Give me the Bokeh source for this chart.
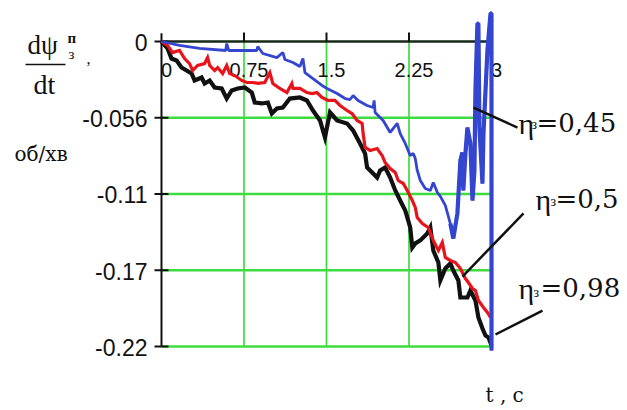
from math import pi
from bokeh.plotting import figure
from bokeh.models import Range1d, Label
from bokeh.core.properties import value
from bokeh.embed import file_html
from bokeh.resources import INLINE

# ---- data (t in s, dpsi/dt in rev/min) ----
t_098 = [0, 0.055, 0.091, 0.137, 0.182, 0.228, 0.274, 0.301, 0.365, 0.392, 0.438, 0.483, 0.547,
         0.593, 0.638, 0.693, 0.757, 0.821, 0.848, 0.912, 0.967, 1.003, 1.049, 1.103, 1.167, 1.258,
         1.322, 1.377, 1.441, 1.486, 1.532, 1.596, 1.687, 1.742, 1.805, 1.851, 1.869, 1.915, 1.960,
         1.988, 2.033, 2.079, 2.125, 2.170, 2.216, 2.261, 2.280, 2.307, 2.353, 2.416, 2.444, 2.471,
         2.517, 2.535, 2.580, 2.626, 2.653, 2.699, 2.717, 2.781, 2.808, 2.854, 2.881, 2.918, 2.945,
         2.973, 3.0]
w_098 = [0, -0.0051, -0.0125, -0.0140, -0.0191, -0.0213, -0.0235, -0.0286, -0.0264, -0.0308,
         -0.0286, -0.0338, -0.0345, -0.0419, -0.0360, -0.0345, -0.0338, -0.0375, -0.0448, -0.0455,
         -0.0448, -0.0529, -0.0492, -0.0485, -0.0419, -0.0411, -0.0433, -0.0507, -0.0580, -0.0705,
         -0.0521, -0.0580, -0.0602, -0.0654, -0.0749, -0.0823, -0.0925, -0.0962, -0.0999, -0.0947,
         -0.0925, -0.0999, -0.1094, -0.1168, -0.1241, -0.1366, -0.1513, -0.1483, -0.1461, -0.1410,
         -0.1366, -0.1535, -0.1623, -0.1755, -0.1667, -0.1630, -0.1682, -0.1755, -0.1880, -0.1880,
         -0.1829, -0.1902, -0.2027, -0.2108, -0.2159, -0.2174, -0.2232]

t_05 = [0, 0.055, 0.100, 0.164, 0.210, 0.255, 0.283, 0.328, 0.392, 0.419, 0.438, 0.483, 0.511,
        0.556, 0.593, 0.620, 0.666, 0.729, 0.775, 0.830, 0.875, 0.939, 0.985, 1.012, 1.076, 1.140,
        1.185, 1.195, 1.258, 1.322, 1.368, 1.413, 1.459, 1.514, 1.577, 1.623, 1.687, 1.732, 1.778,
        1.824, 1.833, 1.851, 1.897, 1.960, 2.006, 2.033, 2.079, 2.125, 2.152, 2.198, 2.234, 2.280,
        2.307, 2.325, 2.371, 2.425, 2.471, 2.517, 2.553, 2.580, 2.626, 2.672, 2.717, 2.763, 2.790,
        2.827, 2.854, 2.881, 2.927, 2.963, 2.991]
w_05 = [0, -0.0029, -0.0081, -0.0066, -0.0125, -0.0162, -0.0213, -0.0176, -0.0162, -0.0118,
        -0.0176, -0.0213, -0.0191, -0.0235, -0.0176, -0.0235, -0.0250, -0.0286, -0.0301, -0.0301,
        -0.0308, -0.0301, -0.0228, -0.0308, -0.0345, -0.0375, -0.0308, -0.0345, -0.0345, -0.0375,
        -0.0382, -0.0375, -0.0411, -0.0433, -0.0433, -0.0470, -0.0507, -0.0529, -0.0580, -0.0602,
        -0.0676, -0.0778, -0.0800, -0.0786, -0.0837, -0.0889, -0.0933, -0.0962, -0.1021, -0.1043,
        -0.1094, -0.1168, -0.1219, -0.1293, -0.1337, -0.1366, -0.1461, -0.1535, -0.1476, -0.1586,
        -0.1608, -0.1623, -0.1667, -0.1741, -0.1770, -0.1814, -0.1829, -0.1902, -0.1954, -0.1990,
        -0.2027]

t_045 = [0, 0.164, 0.346, 0.584, 0.593, 0.611, 0.775, 0.866, 0.875, 0.921, 1.049, 1.103, 1.122,
         1.195, 1.258, 1.286, 1.304, 1.377, 1.459, 1.505, 1.596, 1.669, 1.714, 1.742, 1.787, 1.869,
         1.924, 1.933, 1.942, 2.015, 2.079, 2.143, 2.170, 2.216, 2.261, 2.289, 2.307, 2.325, 2.353,
         2.398, 2.444, 2.471, 2.508, 2.535, 2.580, 2.626, 2.653, 2.690, 2.717, 2.735, 2.744, 2.763,
         2.781, 2.808, 2.827, 2.845, 2.854, 2.872, 2.881, 2.890, 2.918, 2.927, 2.963, 2.991, 3.0, 3.0]
w_045 = [0, -0.0029, -0.0051, -0.0066, -0.0015, -0.0066, -0.0066, -0.0066, -0.0037, -0.0088,
         -0.0118, -0.0081, -0.0132, -0.0154, -0.0184, -0.0125, -0.0228, -0.0272, -0.0323, -0.0345,
         -0.0382, -0.0419, -0.0426, -0.0397, -0.0433, -0.0470, -0.0485, -0.0433, -0.0521, -0.0580,
         -0.0668, -0.0602, -0.0676, -0.0749, -0.0837, -0.0823, -0.0859, -0.0947, -0.1021, -0.1080,
         -0.1094, -0.1036, -0.1109, -0.1138, -0.1204, -0.1337, -0.1447, -0.1263, -0.0874, -0.0815,
         -0.1094, -0.0823, -0.0632, -0.0749, -0.1168, -0.0947, -0.0360, 0.0132, 0.0132, -0.0632,
         -0.1043, -0.0676, -0.0066, 0.0206, 0.0206, -0.2269]

x_ticks = [0, 0.75, 1.5, 2.25, 3]
x_tick_labels = ["0", "0.75", "1.5", "2.25", "3"]
y_ticks = [0, -0.056, -0.112, -0.168, -0.224]
y_tick_labels = ["0", "-0.056", "-0.11", "-0.17", "-0.22"]

# curve labels and their leader lines (text end -> curve)
eta_texts = ["=0,45", "=0,5", "=0,98"]
leader_x0 = [3.236, 3.291, 3.464]
leader_y0 = [-0.0632, -0.1263, -0.1976]
leader_x1 = [2.836, 2.736, 3.036]
leader_y1 = [-0.0485, -0.1726, -0.2152]

GREEN = "#3fdc3f"
BLACK = "#111111"
RED = "#e8141b"
BLUE = "#3446cf"

p = figure(width=627, height=410, output_backend="svg", toolbar_location=None,
           x_range=Range1d(-1.4636, 4.2364), y_range=Range1d(-0.27101, 0.030112),
           x_axis_location=None, y_axis_location=None,
           min_border_left=0, min_border_right=0, min_border_top=0, min_border_bottom=0)
p.outline_line_color = None
p.grid.visible = False
p.background_fill_color = "white"
p.border_fill_color = "white"

# green grid
n_h = len(y_ticks) - 1
p.segment(x0=[x_ticks[0]] * n_h, x1=[x_ticks[-1]] * n_h, y0=y_ticks[1:], y1=y_ticks[1:],
          line_color=GREEN, line_width=2.4)
n_v = len(x_ticks) - 1
p.segment(x0=x_ticks[1:], x1=x_ticks[1:], y0=[y_ticks[0]] * n_v, y1=[y_ticks[-1]] * n_v,
          line_color=GREEN, line_width=1.7)

# x axis drawn through zero, labels underneath
p.segment(x0=[x_ticks[0]], x1=[x_ticks[-1]], y0=[0], y1=[0], line_color="#142814", line_width=2.6)
p.ray(x=x_ticks[1:-1], y=[0] * (len(x_ticks) - 2), length=9, length_units="screen",
      angle=pi / 2, line_color=BLACK, line_width=2)
p.text(x=x_ticks, y=[0] * len(x_ticks), text=x_tick_labels, text_font=value("Liberation Sans"),
       text_font_size="20px", text_color=BLACK, text_align="center", text_baseline="middle",
       x_offset=5, y_offset=29)

# y axis at t = 0
p.segment(x0=[x_ticks[0]], x1=[x_ticks[0]], y0=[y_ticks[-1]], y1=[0.006],
          line_color=BLACK, line_width=2)
zeros_y = [x_ticks[0]] * len(y_ticks)
p.ray(x=zeros_y, y=y_ticks, length=7, length_units="screen", angle=pi, line_color=BLACK, line_width=2)
p.ray(x=zeros_y, y=y_ticks, length=7, length_units="screen", angle=0, line_color=BLACK, line_width=2)
p.text(x=zeros_y, y=y_ticks, text=y_tick_labels, text_font=value("Liberation Sans"),
       text_font_size="23px", text_color=BLACK, text_align="right", text_baseline="middle",
       x_offset=-14, y_offset=1)

# curves
p.line(t_098, w_098, line_color=BLACK, line_width=4.2, line_join="miter")
p.line(t_05, w_05, line_color=RED, line_width=3.2, line_join="miter")
p.line(t_045, w_045, line_color=BLUE, line_width=2.8)
p.line(t_045[45:], w_045[45:], line_color=BLUE, line_width=4.2)

# leader lines
p.segment(x0=leader_x0, y0=leader_y0, x1=leader_x1, y1=leader_y1, line_color=BLACK, line_width=2.5)


def lab(x, y, text, font="DejaVu Serif", size="26px", style="normal"):
    p.add_layout(Label(x=x, y=y, text=text, text_font=font, text_font_size=size,
                       text_font_style=style, text_color=BLACK, text_baseline="middle",
                       text_align="left"))


# curve annotations  (eta_z = ...): x of eta, x of z, x of value, y centre, y of z
eta_pos = [(3.2455, 3.3636, 3.4091, -0.0599, -0.0610),
           (3.4000, 3.5364, 3.5818, -0.1157, -0.1175),
           (3.2455, 3.3818, 3.4455, -0.1814, -0.1847)]
for (xe, xz, xv, yc, yz), txt in zip(eta_pos, eta_texts):
    lab(xe, yc, "\u03b7", font="Liberation Serif", size="30px")
    lab(xz, yz, "\u0437", font="Liberation Serif", size="14px")
    lab(xv, yc, txt)

# y title: d psi^n_z / dt ,  (rev/min)
lab(-1.218, -0.0028, "d\u03c8", font="Liberation Serif", size="27px")
lab(-1.1636, -0.0316, "dt", font="Liberation Serif", size="28px")
p.segment(x0=[-1.2364], x1=[-0.8727], y0=[-0.0169], y1=[-0.0169], line_color=BLACK, line_width=1.5)
lab(-0.8545, 0.0029, "\u043f", font="Liberation Serif", size="15px", style="bold")
lab(-0.8455, -0.0095, "\u0437", font="Liberation Serif", size="15px")
lab(-0.6818, -0.0125, ",", font="Liberation Serif", size="16px")
lab(-1.3364, -0.0823, "об/хв", size="20px")

# x title
lab(2.9455, -0.2593, "t , c", size="20px")

open("out.html", "w").write(file_html(p, INLINE))
